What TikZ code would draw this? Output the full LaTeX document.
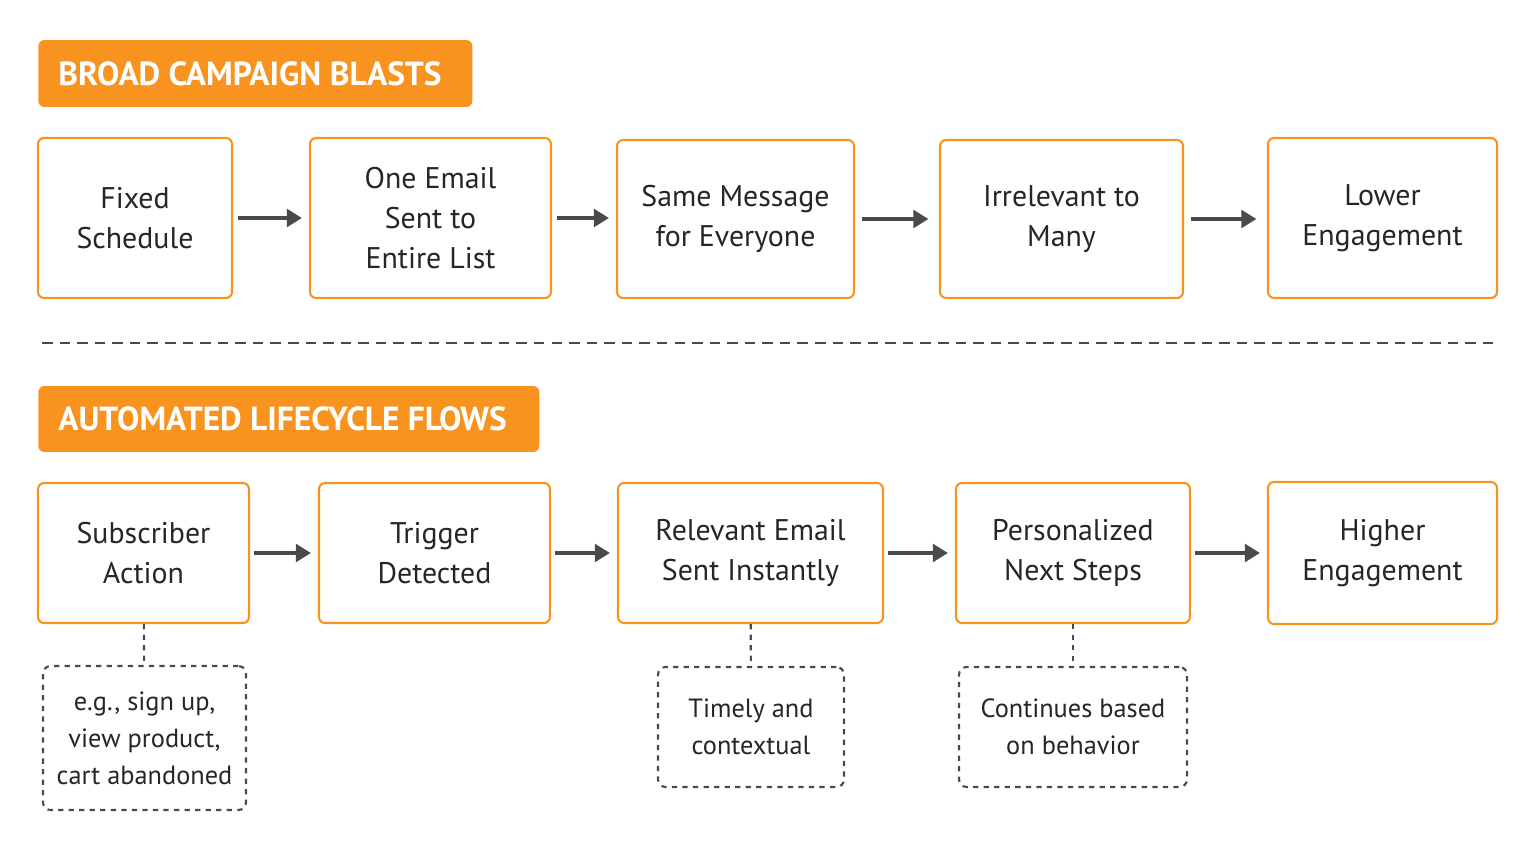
\documentclass[tikz,border=0pt]{standalone}
\usepackage{fontspec}
\setmainfont{PT Sans}
\usetikzlibrary{positioning,arrows.meta}
\definecolor{flowOrange}{HTML}{F7931E}
\definecolor{flowGray}{HTML}{4A4A4A}
\tikzset {
    step box/.style={
        draw=flowOrange,
        line width=1.2pt,
        fill=white,
        rounded corners=.12cm,
        align=center,
        font=\fontsize{17}{23}\selectfont,
        text=black!85,
        inner sep=0pt,
    },
    head box/.style={
        fill=flowOrange,
        rounded corners=.12cm,
        text=white,
        font=\fontsize{19}{22}\bfseries,
        anchor=west,
        inner xsep=0.4cm,
        inner ysep=0pt,
    },
    note box/.style={
        draw=flowGray,
        dashed,
        line width=1.2pt,
        rounded corners=.15cm,
        align=center,
        font=\fontsize{15}{21}\selectfont,
        text=black!85,
        inner sep=0pt,
    },
    flow arrow/.style={draw=flowGray, line width=2pt, -{Triangle[length=3mm,width=3.5mm]}},
}
\begin{document}
\begin{tikzpicture}[x=0.02cm, y=-0.02cm]
        \useasboundingbox[fill=white] (0,0) rectangle (1535,852);

        % first row
        \node[head box, minimum height=1.34cm] (headA) at (38,73.5) {\makebox[7.88cm][l]{BROAD CAMPAIGN BLASTS}};
        \node[step box, minimum width=3.88cm, minimum height=3.2cm] (fixed) at (135,218) {Fixed\\Schedule};
        \node[step box, minimum width=4.82cm, minimum height=3.2cm] (oneEmail) at (430.5,218) {One Email\\Sent to\\Entire List};
        \node[step box, minimum width=4.74cm, minimum height=3.16cm] (same) at (735.5,219) {Same Message\\for Everyone};
        \node[step box, minimum width=4.86cm, minimum height=3.16cm] (irrelevant) at (1061.5,219) {Irrelevant to\\Many};
        \node[step box, minimum width=4.58cm, minimum height=3.2cm] (lower) at (1382.5,218) {Lower\\Engagement};
        \draw[flow arrow] ([xshift=3pt]fixed.east) -- ([xshift=-4pt]fixed.east -| oneEmail.west);
        \draw[flow arrow] ([xshift=3pt]oneEmail.east) -- ([xshift=-4pt]oneEmail.east -| same.west);
        \draw[flow arrow] ([xshift=4pt]same.east) -- ([xshift=-6pt]same.east -| irrelevant.west);
        \draw[flow arrow] ([xshift=4pt]irrelevant.east) -- ([xshift=-6pt]irrelevant.east -| lower.west);

        % separator
        \coordinate (sepL) at (42,343);
        \coordinate (sepR) at (1495,343);
        \draw[flowGray, line width=1.2pt, dash pattern=on 6pt off 4pt] (sepL) -- (sepR);

        % second row
        \node[head box, minimum height=1.32cm] (headB) at (38,419) {\makebox[9.22cm][l]{AUTOMATED LIFECYCLE FLOWS}};
        \node[step box, minimum width=4.22cm, minimum height=2.8cm] (action) at (143.5,553) {Subscriber\\Action};
        \node[step box, minimum width=4.62cm, minimum height=2.8cm] (trigger) at (434.5,553) {Trigger\\Detected};
        \node[step box, minimum width=5.3cm, minimum height=2.8cm] (relevant) at (750.5,553) {Relevant Email\\Sent Instantly};
        \node[step box, minimum width=4.68cm, minimum height=2.8cm] (personal) at (1073,553) {Personalized\\Next Steps};
        \node[step box, minimum width=4.58cm, minimum height=2.84cm] (higher) at (1382.5,553) {Higher\\Engagement};
        \draw[flow arrow] ([xshift=2pt]action.east) -- ([xshift=-4pt]trigger.west);
        \draw[flow arrow] ([xshift=2pt]trigger.east) -- ([xshift=-4pt]relevant.west);
        \draw[flow arrow] ([xshift=2pt]relevant.east) -- ([xshift=-4pt]personal.west);
        \draw[flow arrow] ([xshift=2pt]personal.east) -- ([xshift=-4pt]personal.east -| higher.west);

        % notes
        \node[note box, minimum width=4.06cm, minimum height=2.88cm] (noteA) at (144.5,738) {e.g., sign up,\\view product,\\cart abandoned};
        \node[note box, minimum width=3.72cm, minimum height=2.4cm] (noteB) at (751,727) {Timely and\\contextual};
        \node[note box, minimum width=4.56cm, minimum height=2.4cm] (noteC) at (1073,727) {Continues based\\on behavior};
        \draw[flowGray, dashed, line width=1.2pt] (action) -- (noteA);
        \draw[flowGray, dashed, line width=1.2pt] (relevant) -- (noteB);
        \draw[flowGray, dashed, line width=1.2pt] (personal) -- (noteC);
    \end{tikzpicture}
\end{document}
